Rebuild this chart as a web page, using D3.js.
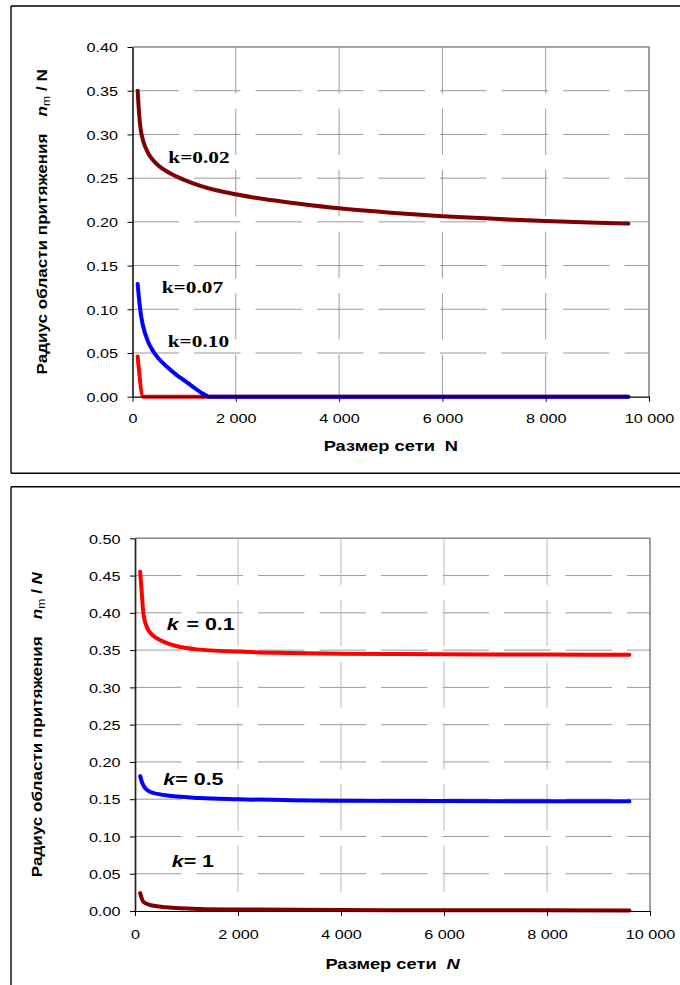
<!DOCTYPE html>
<html>
<head>
<meta charset="utf-8">
<script src="https://cdn.jsdelivr.net/npm/d3@7/dist/d3.min.js"></script>
<style>
  html, body { margin: 0; padding: 0; background: #fff; }
  svg { display: block; }
</style>
</head>
<body>
<script>
// ---------------- DATA ----------------
const xTicks = [0, 2000, 4000, 6000, 8000, 10000];
const yTicksTop = [0, 0.05, 0.10, 0.15, 0.20, 0.25, 0.30, 0.35, 0.40];
const yTicksBottom = [0, 0.05, 0.10, 0.15, 0.20, 0.25, 0.30, 0.35, 0.40, 0.45, 0.50];

// Top chart series
const topN_k002 = [100, 130, 160, 200, 300, 400, 500, 700, 1000, 1300, 1600, 2000, 2600, 3000, 4000, 5000, 6000, 7000, 8000, 9000, 9600];
const topV_k002 = [0.350, 0.322, 0.305, 0.294, 0.279, 0.2705, 0.2645, 0.2565, 0.2480, 0.2415, 0.2365, 0.2315, 0.2255, 0.2225, 0.2155, 0.2105, 0.2065, 0.2035, 0.2010, 0.1990, 0.1980];
const topN_k007 = [100, 130, 160, 200, 300, 400, 500, 700, 850, 1000, 1100, 1200, 1300, 1400, 1480, 3000, 6000, 9600];
const topV_k007 = [0.129, 0.110, 0.095, 0.082, 0.063, 0.052, 0.044, 0.0325, 0.025, 0.0188, 0.0145, 0.0100, 0.0058, 0.0022, 0.0, 0.0, 0.0, 0.0];
const topN_k010 = [100, 210, 1000, 5000, 9600];
const topV_k010 = [0.046, 0.0, 0.0, 0.0, 0.0];

// Bottom chart series
const botN_k01 = [100, 130, 165, 230, 300, 420, 600, 800, 1200, 2000, 3000, 4000, 6000, 8000, 9600];
const botV_k01 = [0.455, 0.428, 0.398, 0.381, 0.373, 0.366, 0.360, 0.3555, 0.351, 0.348, 0.3462, 0.3450, 0.3443, 0.3440, 0.3438];
const botN_k05 = [100, 130, 160, 290, 600, 1260, 2000, 3850, 6000, 9600];
const botV_k05 = [0.181, 0.174, 0.169, 0.160, 0.1552, 0.1516, 0.150, 0.148, 0.1475, 0.1472];
const botN_k1 = [100, 160, 290, 600, 1260, 2000, 4000, 6000, 9600];
const botV_k1 = [0.024, 0.0125, 0.008, 0.005, 0.0027, 0.002, 0.0013, 0.001, 0.0008];

const topLabels = ["k=0.02", "k=0.07", "k=0.10"];
const botLabels = ["0.1", "0.5", "1"];

// ---------------- DRAWING ----------------
const svg = d3.select("body").append("svg").attr("width", 680).attr("height", 985);

const fmtX = d3.formatLocale({ decimal: ".", thousands: " ", grouping: [3], currency: ["", ""] }).format(",");
const fmtY = d3.format(".2f");
const SX = 1.2;
const sansFont = "'Liberation Sans', Arial, sans-serif";
const serifFont = "'Liberation Serif', 'Times New Roman', serif";

function zip(ns, vs) { return ns.map((n, i) => ({ n: n, v: vs[i] })); }

function frame(x0, y0, y1, hasBottom) {
  const g = svg.append("g").attr("stroke", "#000").attr("stroke-width", 1.4);
  g.append("line").attr("x1", x0).attr("x2", 682).attr("y1", y0).attr("y2", y0);
  g.append("line").attr("x1", x0).attr("x2", x0).attr("y1", y0).attr("y2", y1);
  if (hasBottom) g.append("line").attr("x1", x0).attr("x2", 682).attr("y1", y1).attr("y2", y1);
}

function drawChart(cfg) {
  const x = d3.scaleLinear().domain([0, 10000]).range([cfg.left, cfg.right]);
  const y = d3.scaleLinear().domain([0, cfg.yMax]).range([cfg.bottom, cfg.top]);
  const g = svg.append("g");

  // gridlines
  const grid = g.append("g").attr("stroke", "#9a9a9a").attr("stroke-width", 1).attr("fill", "none");
  cfg.yTicks.filter(t => t > 0 && t < cfg.yMax - 1e-9).forEach(t => {
    grid.append("line").attr("x1", x(0)).attr("x2", x(10000)).attr("y1", y(t)).attr("y2", y(t))
      .attr("stroke-dasharray", "46.5 15");
  });
  xTicks.filter(t => t > 0 && t < 10000).forEach(t => {
    grid.append("line").attr("x1", x(t)).attr("x2", x(t)).attr("y1", y(cfg.yMax)).attr("y2", y(0))
      .attr("stroke-dasharray", "46.5 15").attr("stroke", cfg.vGrid);
  });
  // top / right border
  g.append("path").attr("fill", "none").attr("stroke", "#888").attr("stroke-width", 1.6)
    .attr("d", `M${x(0)},${y(cfg.yMax)}H${x(10000)}V${y(0)}`);

  // series
  const line = d3.line().x(d => x(d.n)).y(d => y(d.v)).curve(d3.curveMonotoneX);
  cfg.series.forEach(s => {
    g.append("path").datum(zip(s.n, s.v)).attr("d", line)
      .attr("fill", "none").attr("stroke", s.color).attr("stroke-width", 4)
      .attr("stroke-linecap", "round").attr("stroke-linejoin", "round");
  });

  // axes
  const ax = g.append("g").attr("transform", `translate(0,${y(0)})`)
    .call(d3.axisBottom(x).tickValues(xTicks).tickSize(5).tickSizeOuter(0).tickFormat(fmtX));
  ax.select(".domain").attr("stroke", "#000").attr("stroke-width", 1.2);
  ax.selectAll(".tick line").attr("stroke", "#000");
  ax.selectAll("text").attr("x", 0).attr("y", 0).attr("dy", null)
    .attr("transform", `translate(0,${cfg.xLabOff}) scale(${SX},1)`)
    .attr("font-size", 13.5).attr("font-family", sansFont).attr("fill", "#000");

  const ay = g.append("g").attr("transform", `translate(${x(0)},0)`)
    .call(d3.axisLeft(y).tickValues(cfg.yTicks).tickSize(5).tickSizeOuter(0).tickFormat(fmtY));
  ay.select(".domain").attr("stroke", "#222").attr("stroke-width", 1.7);
  ay.selectAll(".tick line").attr("stroke", "#000");
  ay.selectAll("text").attr("x", 0).attr("y", 0).attr("dy", null)
    .attr("transform", `translate(-14.5,4.8) scale(${SX},1)`)
    .attr("font-size", 13.5).attr("font-family", sansFont).attr("fill", "#000");

  // x title
  const xt = g.append("text").attr("text-anchor", "middle")
    .attr("transform", `translate(${(cfg.left + cfg.right) / 2},${y(0) + cfg.xTitleOff}) scale(1.22,1)`)
    .attr("font-family", sansFont).attr("font-size", 15).attr("font-weight", "bold").attr("fill", "#000");
  xt.append("tspan").text("Размер сети");
  xt.append("tspan").attr("dx", 8).attr("font-style", cfg.italicN ? "italic" : "normal").text("N");

  // y title
  const yt = g.append("text").attr("text-anchor", "middle")
    .attr("transform", `translate(${cfg.yTitleX},${(cfg.top + cfg.bottom) / 2}) rotate(-90) scale(1.22,1)`)
    .attr("font-family", sansFont).attr("font-size", 14).attr("font-weight", "bold").attr("fill", "#000");
  yt.append("tspan").text("Радиус области притяжения");
  yt.append("tspan").attr("dx", 14).attr("font-style", "italic").text("n");
  yt.append("tspan").attr("dy", 3).attr("font-size", 10).attr("font-weight", "normal").text("m");
  yt.append("tspan").attr("dy", -3).text(" / ");
  yt.append("tspan").attr("font-style", cfg.italicN ? "italic" : "normal").text("N");

  return { x, y, g };
}

// ---- top chart ----
frame(11, 6, 473.3, true);
const chartTop = drawChart({
  left: 132.5, right: 649, top: 47, bottom: 396.7, yMax: 0.40, yTicks: yTicksTop,
  xLabOff: 25.8, xTitleOff: 54, yTitleX: 46.5, italicN: false, vGrid: "#9a9a9a",
  series: [
    { n: topN_k002, v: topV_k002, color: "#800000" },
    { n: topN_k010, v: topV_k010, color: "#ff0000" },
    { n: topN_k007, v: topV_k007, color: "#0000ff" }
  ]
});
const topLabelPos = [[168.3, 162.7], [161.7, 293.3], [167.7, 347.3]];
topLabels.forEach((t, i) => {
  chartTop.g.append("text")
    .attr("transform", `translate(${topLabelPos[i][0]},${topLabelPos[i][1]}) scale(1.22,1)`)
    .attr("font-family", serifFont).attr("font-weight", "bold").attr("font-size", 17.5)
    .attr("fill", "#000").text(t);
});

// ---- bottom chart ----
frame(11, 486.7, 990, false);
const chartBot = drawChart({
  left: 135, right: 650, top: 538.3, bottom: 911, yMax: 0.50, yTicks: yTicksBottom,
  xLabOff: 27.8, xTitleOff: 58.3, yTitleX: 41.8, italicN: true, vGrid: "#b8b8b8",
  series: [
    { n: botN_k1, v: botV_k1, color: "#800000" },
    { n: botN_k05, v: botV_k05, color: "#0000ff" },
    { n: botN_k01, v: botV_k01, color: "#ff0000" }
  ]
});
const botLabelPos = [[166.7, 630], [163.3, 785], [171.7, 866.7]];
const botEq = ["= ", "= ", "= "];
const botGap = [6, 0, 0];
botLabels.forEach((t, i) => {
  const tx = chartBot.g.append("text")
    .attr("transform", `translate(${botLabelPos[i][0]},${botLabelPos[i][1]}) scale(1.3,1)`)
    .attr("font-family", sansFont).attr("font-weight", "bold").attr("font-size", 16.5).attr("fill", "#000");
  tx.append("tspan").attr("font-style", "italic").text("k");
  tx.append("tspan").attr("dx", botGap[i]).text(botEq[i] + t);
});
</script>
</body>
</html>
